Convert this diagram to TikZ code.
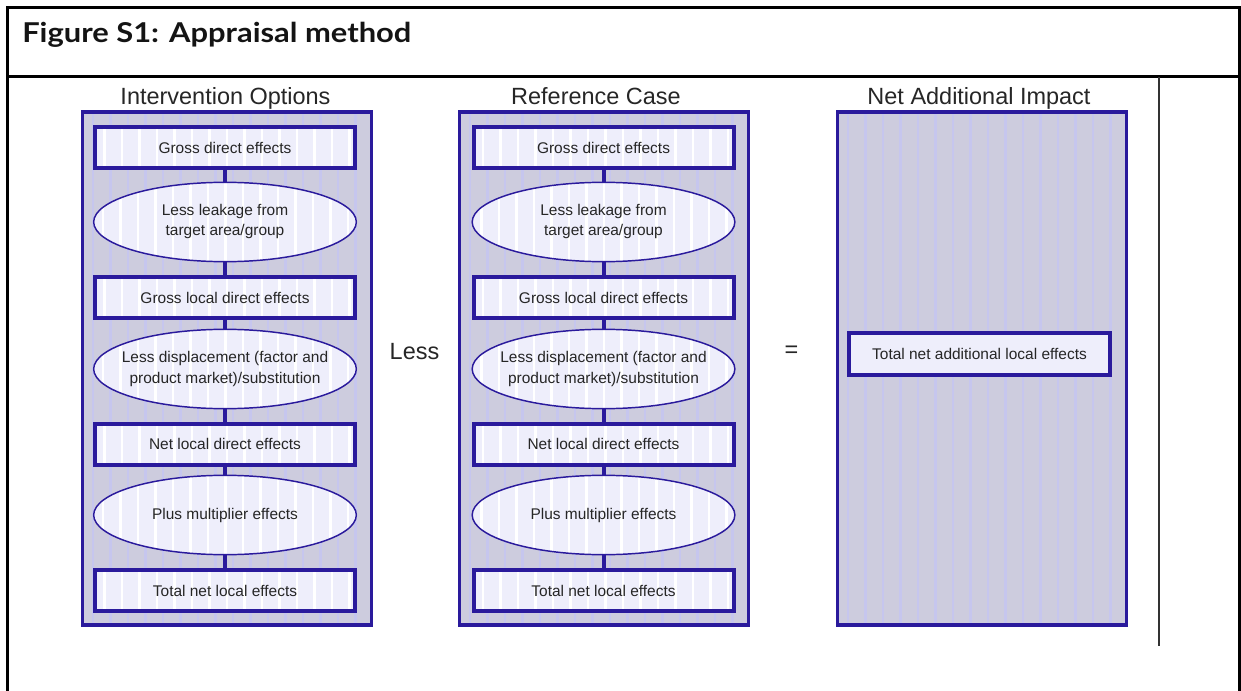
\documentclass[tikz,border=0pt]{standalone}
\usepackage{fontspec}
\setmainfont{Liberation Sans}
\newfontfamily\titlefont{Lato}
\usetikzlibrary{shapes.geometric}
\definecolor{dblue}{HTML}{2A1A9C}
\definecolor{panelfill}{HTML}{CDCCDE}
\definecolor{panelstripe}{HTML}{C6C6EE}
\definecolor{boxfill}{HTML}{EEEEFB}
\definecolor{txt}{HTML}{262626}
\tikzset{
  stripes/.style n args={3}{path picture={%
    \foreach \k in {0,...,#2}{%
      \fill[#1] ([xshift={(#3+\k*17.5)*0.75pt}]path picture bounding box.south west)
        rectangle ([xshift={(#3+2.5+\k*17.5)*0.75pt}]path picture bounding box.north west);}}},
  panel/.style={draw=dblue, line width=2.6pt, fill=panelfill, minimum width=216.4pt,
    minimum height=385pt, inner sep=0pt, stripes={panelstripe}{16}{9}},
  bodytext/.style={text=txt, font=\fontsize{11.6}{15}\selectfont, align=center},
  stepbox/.style={bodytext, draw=dblue, line width=3pt, fill=boxfill, minimum width=195pt,
    minimum height=30.75pt, inner sep=0pt, stripes={white}{14}{8}},
  plainbox/.style={bodytext, draw=dblue, line width=3pt, fill=boxfill, minimum width=196pt,
    minimum height=31.5pt, inner sep=0pt},
  stepell/.style={bodytext, ellipse, draw=dblue, line width=1.1pt, fill=boxfill,
    minimum width=197pt, minimum height=59.5pt, inner xsep=-12pt, inner ysep=0pt,
    stripes={white}{14}{8}},
  link/.style={draw=dblue, line width=3pt},
  coltitle/.style={text=txt, font=\fontsize{17.6}{20}\selectfont, anchor=base},
  opsign/.style={text=txt, font=\fontsize{17.6}{20}\selectfont},
  frame/.style={draw=black, line width=2.25pt},
  thinrule/.style={draw=black!80, line width=1.2pt},
}
\begin{document}
\begin{tikzpicture}[x=0.75pt, y=-0.75pt]
\useasboundingbox (0,0) rectangle (1241,691);
% outer frame
\coordinate (fbl) at (7.5,691);
\coordinate (ftl) at (7.5,7.5);
\coordinate (ftr) at (1239,7.5);
\coordinate (fbr) at (1239,691);
\coordinate (hl) at (7.5,77);
\coordinate (hr) at (1239,77);
\coordinate (vt) at (1159,77);
\coordinate (vb) at (1159,646);
\draw[frame] (fbl) -- (ftl) -- (ftr) -- (fbr);
\draw[frame] (hl) -- (hr);
\draw[thinrule] (vt) -- (vb);
\node[anchor=base west, inner sep=0pt, font=\titlefont\bfseries\fontsize{20.5}{22}\selectfont, text=black!92] (title) at (22,43) {\scalebox{1.13}[1]{Figure S1: Appraisal method}};

% panels
\node[panel] (Lp) at (227,368.5) {};
\node[panel] (Mp) at (604,368.5) {};
\node[panel] (Rp) at (982,368.5) {};
\node[coltitle] (Lt) at (225.5,105) {Intervention Options};
\node[coltitle] (Mt) at (596,105) {Reference Case};
\node[coltitle] (Rt) at (979,105) {Net Additional Impact};

\foreach \p/\cx in {L/225, M/603.5}{
  \node[stepbox] (\p1) at (\cx,147.5) {Gross direct effects};
  \node[stepell] (\p2) at (\cx,222) {Less leakage from\\target area/group};
  \node[stepbox] (\p3) at (\cx,297.5) {Gross local direct effects};
  \node[stepell] (\p4) at (\cx,369) {Less displacement (factor and\\product market)/substitution};
  \node[stepbox] (\p5) at (\cx,444) {Net local direct effects};
  \node[stepell] (\p6) at (\cx,515) {Plus multiplier effects};
  \node[stepbox] (\p7) at (\cx,590.5) {Total net local effects};
  \draw[link] (\p1) -- (\p2);
  \draw[link] (\p2) -- (\p3);
  \draw[link] (\p3) -- (\p4);
  \draw[link] (\p4) -- (\p5);
  \draw[link] (\p5) -- (\p6);
  \draw[link] (\p6) -- (\p7);
}
\node[plainbox] (R1) at (979.5,354) {Total net additional local effects};

\node[opsign] (less) at (414.5,352) {Less};
\node[opsign] (eq) at (791.5,352) {=};
\end{tikzpicture}
\end{document}
